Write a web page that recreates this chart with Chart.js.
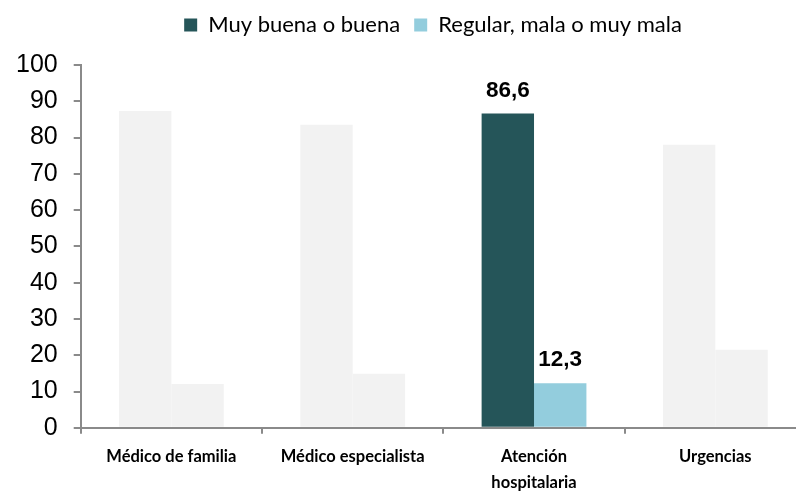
<!DOCTYPE html>
<html>
<head>
<meta charset="utf-8">
<script src="https://cdn.jsdelivr.net/npm/chart.js@4.4.1/dist/chart.umd.min.js"></script>
<style>
  html, body { margin: 0; padding: 0; background: #fff; overflow: hidden; }
  #wrap { width: 806px; height: 491px; }
</style>
</head>
<body>
<div id="wrap"><canvas id="myChart"></canvas></div>
<script>
const categories = ['Médico de familia', 'Médico especialista', ['Atención', 'hospitalaria'], 'Urgencias'];
const buena = [87.3, 83.5, 86.6, 78.0];
const mala = [12.1, 14.9, 12.3, 21.5];
const yTicks = [0, 10, 20, 30, 40, 50, 60, 70, 80, 90, 100];
const highlight = 2; // only this category is coloured and labelled

const grey = '#f2f2f2';
const darkTeal = '#255559';
const lightBlue = '#93cddd';
const axisGrey = '#8a8a8a';

function colours(main) {
  return categories.map((c, i) => (i === highlight ? main : grey));
}

// extra room under the legend, and legend pushed a bit to the right
const legendTweak = {
  id: 'legendTweak',
  beforeInit(chart) {
    const fit = chart.legend.fit;
    chart.legend.fit = function () {
      fit.bind(chart.legend)();
      this.height += 19;
    };
  },
  afterLayout(chart) {
    chart.legend.left += 30;
    chart.legend.right += 30;
  }
};

// draws the value above the bars of the highlighted category
const valueLabels = {
  id: 'valueLabels',
  afterDatasetsDraw(chart) {
    const ctx = chart.ctx;
    ctx.save();
    ctx.font = 'bold 22.5px "Liberation Sans", Arial, sans-serif';
    ctx.fillStyle = '#000';
    ctx.textAlign = 'center';
    ctx.textBaseline = 'bottom';
    chart.data.datasets.forEach((ds, di) => {
      const bar = chart.getDatasetMeta(di).data[highlight];
      const txt = ds.data[highlight].toFixed(1).replace('.', ',');
      ctx.fillText(txt, bar.x, bar.y - 12);
    });
    ctx.restore();
  }
};

const ctx = document.getElementById('myChart');

new Chart(ctx, {
  type: 'bar',
  data: {
    labels: categories,
    datasets: [
      {
        label: 'Muy buena o buena',
        data: buena,
        backgroundColor: colours(darkTeal),
        categoryPercentage: 0.578,
        barPercentage: 1,
      },
      {
        label: 'Regular, mala o muy mala',
        data: mala,
        backgroundColor: colours(lightBlue),
        categoryPercentage: 0.578,
        barPercentage: 1,
      },
    ],
  },
  options: {
    responsive: true,
    maintainAspectRatio: false,
    animation: false,
    layout: { padding: { left: 0, right: 0, top: 0, bottom: -14 } },
    plugins: {
      tooltip: { enabled: false },
      legend: {
        position: 'top',
        align: 'center',
        labels: {
          boxWidth: 13,
          boxHeight: 13,
          padding: 14,
          color: '#000',
          font: { family: 'Lato', size: 22 },
          generateLabels(chart) {
            return chart.data.datasets.map((ds, i) => ({
              text: ds.label,
              fillStyle: i === 0 ? darkTeal : lightBlue,
              strokeStyle: i === 0 ? darkTeal : lightBlue,
              lineWidth: 0,
              datasetIndex: i,
            }));
          },
        },
      },
    },
    scales: {
      x: {
        grid: {
          display: true,
          offset: true,
          drawOnChartArea: false,
          drawTicks: true,
          tickLength: 6,
          color: axisGrey,
          lineWidth: 2,
        },
        border: { color: axisGrey, width: 2 },
        ticks: {
          color: '#000',
          padding: 10,
          maxRotation: 0,
          autoSkip: false,
          font: { family: 'Lato', size: 16.5, weight: 'bold', lineHeight: 1.55 },
        },
      },
      y: {
        min: 0,
        max: 100,
        afterBuildTicks(axis) {
          axis.ticks = yTicks.map((v) => ({ value: v }));
        },
        grid: {
          display: true,
          drawOnChartArea: false,
          drawTicks: true,
          tickLength: 7,
          color: axisGrey,
          lineWidth: 2,
        },
        border: { color: axisGrey, width: 2 },
        ticks: {
          color: '#000',
          padding: 16,
          font: { family: '"Liberation Sans", Arial, sans-serif', size: 25 },
        },
      },
    },
  },
  plugins: [legendTweak, valueLabels],
});
</script>
</body>
</html>
